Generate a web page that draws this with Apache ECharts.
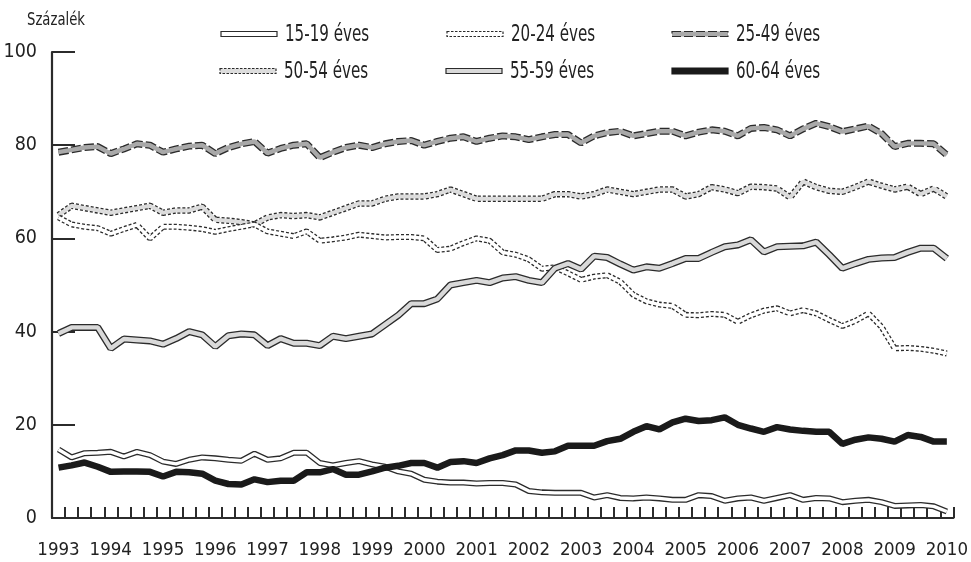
<!DOCTYPE html>
<html>
<head>
<meta charset="utf-8">
<script src="https://cdn.jsdelivr.net/npm/echarts@6/dist/echarts.min.js"></script>
<style>
html,body{margin:0;padding:0;background:#fff;}
#chart{width:971px;height:562px;}
</style>
</head>
<body>
<div id="chart"></div>
<script>
// Quarterly categories 1993 Q1 .. 2010 Q1
var years = [1993,1994,1995,1996,1997,1998,1999,2000,2001,2002,2003,2004,2005,2006,2007,2008,2009,2010];
var categories = [];
years.forEach(function(y){ for (var q=1;q<=4;q++){ if (y===2010 && q>1) break; categories.push(y + ' Q' + q); } });

var yTicks = [0,20,40,60,80,100];

var s15_19 = [14.7,13.0,13.9,14.0, 14.2,13.2,14.2,13.5, 12.1,11.6,12.5,13.0, 12.8,12.5,12.3,13.8, 12.5,12.8,14.0,14.0,
  11.8,11.3,11.8,12.2, 11.5,11.0,10.0,9.5, 8.2,7.8,7.6,7.6, 7.4,7.5,7.5,7.2, 5.8,5.5,5.4,5.4, 5.4,4.4,4.9,4.3,
  4.2,4.4,4.2,3.9, 3.9,4.9,4.7,3.7, 4.2,4.4,3.7,4.3, 4.9,3.9,4.3,4.2, 3.4,3.7,3.9,3.4, 2.6,2.7,2.8,2.5, 1.4];
var s20_24 = [64.5,63.0,62.5,62.2, 61.0,62.0,62.9,60.0, 62.5,62.5,62.3,62.0, 61.4,62.0,62.5,63.0, 61.5,61.0,60.5,61.5,
  59.5,59.8,60.2,60.8, 60.5,60.2,60.3,60.3, 60.0,57.5,57.8,59.0, 60.0,59.5,57.0,56.5, 55.5,53.5,53.8,52.5,
  51.1,51.8,52.1,50.7, 47.9,46.5,45.8,45.5, 43.6,43.5,43.8,43.6, 42.1,43.5,44.5,45.0, 43.9,44.6,43.9,42.5,
  41.2,42.3,43.9,41.0, 36.4,36.5,36.3,35.9, 35.3];
var s25_49 = [78.5,79.0,79.5,79.7, 78.2,79.2,80.3,80.0, 78.5,79.2,79.8,80.0, 78.2,79.5,80.3,80.8, 78.3,79.3,80.0,80.3,
  77.3,78.5,79.5,80.0, 79.5,80.3,80.8,81.0, 80.0,80.8,81.5,81.8, 80.8,81.5,82.0,81.8, 81.2,81.8,82.3,82.3,
  80.5,82.0,82.7,83.0, 82.0,82.5,83.0,83.0, 82.0,82.8,83.3,83.0, 82.0,83.6,83.8,83.3, 82.0,83.5,84.7,84.0,
  82.9,83.5,84.1,82.5, 79.7,80.4,80.4,80.3, 77.9];
var s50_54 = [65.0,67.0,66.5,66.0, 65.5,66.0,66.5,67.0, 65.5,66.0,66.0,66.8, 64.0,63.8,63.5,63.0, 64.5,65.0,64.8,65.0,
  64.5,65.5,66.5,67.5, 67.5,68.5,69.0,69.0, 69.0,69.5,70.5,69.5, 68.5,68.5,68.5,68.5, 68.5,68.5,69.5,69.5,
  69.0,69.5,70.5,70.0, 69.5,70.0,70.5,70.5, 69.0,69.5,71.0,70.5, 69.7,71.1,71.0,70.7, 68.8,72.2,71.0,70.2,
  70.0,71.0,72.2,71.3, 70.5,71.1,69.5,70.7, 69.0];
var s55_59 = [39.6,40.9,40.9,40.9, 36.4,38.4,38.2,38.0, 37.3,38.5,40.0,39.3, 36.8,39.1,39.5,39.3, 37.0,38.5,37.5,37.5,
  37.0,39.0,38.5,39.0, 39.5,41.5,43.5,46.0, 46.0,47.0,50.0,50.5, 51.0,50.5,51.5,51.8, 51.0,50.5,53.6,54.6,
  53.4,56.2,55.9,54.5, 53.2,53.9,53.6,54.6, 55.7,55.7,57.0,58.2, 58.6,59.7,57.1,58.2, 58.3,58.4,59.2,56.5,
  53.6,54.6,55.5,55.8, 55.9,57.0,57.9,57.9, 55.7];
var s60_64 = [10.8,11.3,11.9,11.0, 9.9,10.0,10.0,9.9, 8.9,9.9,9.8,9.5, 8.0,7.3,7.2,8.3, 7.7,8.0,8.0,9.8,
  9.8,10.5,9.3,9.3, 10.0,10.8,11.2,11.8, 11.8,10.8,12.0,12.2, 11.8,12.8,13.5,14.5, 14.5,14.0,14.3,15.5,
  15.5,15.5,16.5,17.0, 18.5,19.7,19.0,20.5, 21.3,20.8,21.0,21.6, 20.0,19.2,18.5,19.5, 19.0,18.7,18.5,18.5,
  15.9,16.8,17.3,17.0, 16.4,17.8,17.4,16.4, 16.4];

var seriesNames = ['15-19 éves','20-24 éves','25-49 éves','50-54 éves','55-59 éves','60-64 éves'];

var FONT = '"DejaVu Sans Condensed","Liberation Sans Narrow",sans-serif';
var INK = '#2b2b2b';

function ribbon(name, data, outlineType, fill, w) {
  return [
    { name: name, type: 'line', data: data, symbol: 'none', silent: true,
      lineStyle: { color: INK, width: w, type: outlineType } },
    { name: name + ' fill', type: 'line', data: data, symbol: 'none', silent: true,
      lineStyle: { color: fill, width: w - 2.6, type: 'solid' } }
  ];
}

var series = [].concat(
  ribbon(seriesNames[2], s25_49, [10,3], '#a9a9a9', 7),
  ribbon(seriesNames[3], s50_54, [3,2], '#dcdcdc', 6.5),
  ribbon(seriesNames[1], s20_24, [3,2], '#ffffff', 6),
  ribbon(seriesNames[4], s55_59, 'solid', '#d9d9d9', 7),
  ribbon(seriesNames[0], s15_19, 'solid', '#ffffff', 6),
  [{ name: seriesNames[5], type: 'line', data: s60_64, symbol: 'none', silent: true,
     lineStyle: { color: '#1a1a1a', width: 6.5 } }]
);

// legend drawn as graphics
var legendItems = [
  { x: 221, y: 34, text: seriesNames[0], fill: '#fff', stroke: INK, dash: null, h: 5 },
  { x: 447, y: 34, text: seriesNames[1], fill: '#fff', stroke: INK, dash: [2.5,1.5], h: 5 },
  { x: 672, y: 34, text: seriesNames[2], fill: '#a9a9a9', stroke: INK, dash: [9,3], h: 5 },
  { x: 220, y: 71, text: seriesNames[3], fill: '#dcdcdc', stroke: INK, dash: [2.5,1.5], h: 5 },
  { x: 446, y: 71, text: seriesNames[4], fill: '#d9d9d9', stroke: INK, dash: null, h: 5 },
  { x: 672, y: 71, text: seriesNames[5], fill: '#1a1a1a', stroke: '#1a1a1a', dash: null, h: 6 }
];
var graphics = [];
legendItems.forEach(function(it){
  graphics.push({ type: 'rect', x: it.x, y: it.y - it.h/2, silent: true,
    shape: { width: 56, height: it.h },
    style: { fill: it.fill, stroke: it.stroke, lineWidth: 1.2, lineDash: it.dash } });
  graphics.push({ type: 'text', x: it.x + 64, y: it.y + 1, scaleX: 0.73, silent: true,
    style: { text: it.text, font: '23px ' + FONT, fill: '#222', textVerticalAlign: 'middle', verticalAlign: 'middle' } });
});
graphics.push({ type: 'text', x: 27, y: 20, scaleX: 0.84, silent: true,
  style: { text: 'Százalék', font: '17.5px ' + FONT, fill: '#222', textVerticalAlign: 'middle', verticalAlign: 'middle' } });

var chart = echarts.init(document.getElementById('chart'), null, { renderer: 'canvas' });
chart.setOption({
  animation: false,
  backgroundColor: '#ffffff',
  grid: { left: 52, right: 16, top: 52, bottom: 44, containLabel: false },
  xAxis: {
    type: 'category', data: categories, boundaryGap: true,
    axisLine: { lineStyle: { color: INK, width: 2.2 } },
    axisTick: { show: true, inside: true, length: 11, interval: 0, lineStyle: { color: INK, width: 2 } },
    axisLabel: { interval: 3, margin: 23, fontSize: 18.5, fontFamily: FONT, color: '#222',
      formatter: function(v){ return v.slice(0,4); } },
    splitLine: { show: false }
  },
  yAxis: {
    type: 'value', min: yTicks[0], max: yTicks[yTicks.length-1], interval: 20,
    axisLine: { show: true, lineStyle: { color: INK, width: 2.2 } },
    axisTick: { show: true, inside: true, length: 23, lineStyle: { color: INK, width: 2 } },
    axisLabel: { margin: 15, fontSize: 19.5, fontFamily: FONT, color: '#222' },
    splitLine: { show: false }
  },
  graphic: graphics,
  series: series
});
</script>
</body>
</html>
